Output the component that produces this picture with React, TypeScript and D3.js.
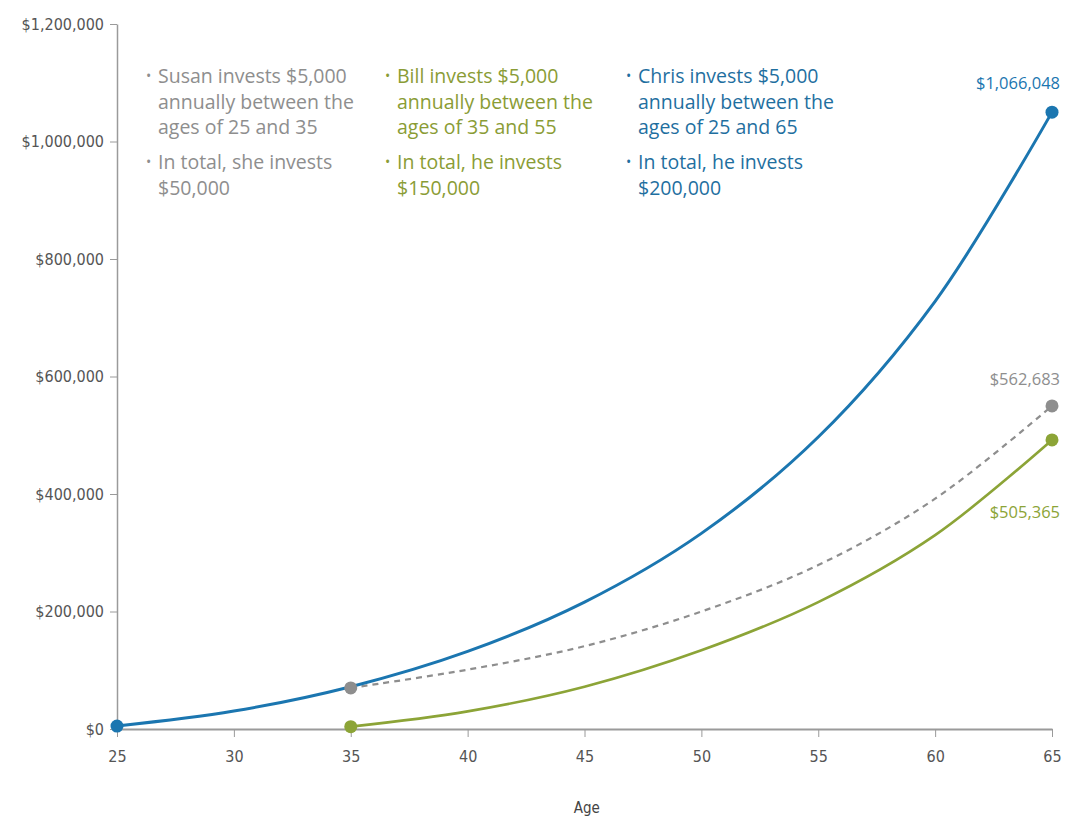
import React, { useEffect, useRef } from 'react';
import * as d3 from 'd3';

// ages on the x axis (5-year steps)
const ages = [25, 30, 35, 40, 45, 50, 55, 60, 65];
const lateAges = [35, 40, 45, 50, 55, 60, 65];

// account balances
const chrisValues = [5000, 30500, 72000, 132000, 216000, 333000, 497000, 728000, 1050000];
const susanValues = [70000, 101000, 141000, 200000, 279000, 392000, 550000];
const billValues = [4000, 30000, 72000, 134000, 216000, 330000, 492000];

const yTicks = [0, 200000, 400000, 600000, 800000, 1000000, 1200000];
const xTicks = [25, 30, 35, 40, 45, 50, 55, 60, 65];

const endLabels = ['$1,066,048', '$562,683', '$505,365'];

const susanNotes = [['Susan invests $5,000', 'annually between the', 'ages of 25 and 35'], ['In total, she invests', '$50,000']];
const billNotes = [['Bill invests $5,000', 'annually between the', 'ages of 35 and 55'], ['In total, he invests', '$150,000']];
const chrisNotes = [['Chris invests $5,000', 'annually between the', 'ages of 25 and 65'], ['In total, he invests', '$200,000']];

const BLUE = '#1b76b0';
const GREEN = '#8ca437';
const GRAY = '#8e8e8e';

export default function App() {
  const ref = useRef(null);

  useEffect(() => {
    const width = 1065;
    const height = 820;
    const margin = { top: 24, left: 117, bottom: 91, right: 13 };

    const svg = d3.select(ref.current);
    svg.selectAll('*').remove();
    svg.attr('width', width).attr('height', height);

    const x = d3.scaleLinear().domain([25, 65]).range([margin.left, width - margin.right]);
    const y = d3.scaleLinear().domain([0, 1200000]).range([height - margin.bottom, margin.top]);

    const axisColor = '#9a9a9a';
    const tickFont = '"DejaVu Sans Condensed", sans-serif';

    // y axis
    const yAxis = svg
      .append('g')
      .attr('transform', `translate(${margin.left},0)`)
      .call(d3.axisLeft(y).tickValues(yTicks).tickFormat(d3.format('$,')).tickSize(7).tickSizeOuter(0).tickPadding(6));
    yAxis.select('.domain').attr('stroke', axisColor).attr('stroke-width', 1.5);
    yAxis.selectAll('.tick line').attr('stroke', axisColor);
    yAxis.selectAll('.tick text').attr('fill', '#555').style('font-family', tickFont).style('font-size', '16px');

    // x axis
    const xAxis = svg
      .append('g')
      .attr('transform', `translate(0,${y(0)})`)
      .call(d3.axisBottom(x).tickValues(xTicks).tickSize(8).tickSizeOuter(0).tickPadding(14));
    xAxis.select('.domain').attr('stroke', axisColor).attr('stroke-width', 2);
    xAxis.selectAll('.tick line').attr('stroke', axisColor);
    xAxis.selectAll('.tick text').attr('fill', '#555').style('font-family', tickFont).style('font-size', '16px');

    svg.append('text')
      .attr('x', x(45.1))
      .attr('y', 813)
      .attr('text-anchor', 'middle')
      .attr('fill', '#444')
      .style('font-family', tickFont)
      .style('font-size', '15px')
      .text('Age');

    const line = d3.line().x((d) => x(d[0])).y((d) => y(d[1])).curve(d3.curveCatmullRom);

    const chris = ages.map((a, i) => [a, chrisValues[i]]);
    const susan = lateAges.map((a, i) => [a, susanValues[i]]);
    const bill = lateAges.map((a, i) => [a, billValues[i]]);

    svg.append('path').datum(susan).attr('d', line).attr('fill', 'none')
      .attr('stroke', GRAY).attr('stroke-width', 2.2).attr('stroke-dasharray', '6,5');
    svg.append('path').datum(bill).attr('d', line).attr('fill', 'none')
      .attr('stroke', GREEN).attr('stroke-width', 2.6);
    svg.append('path').datum(chris).attr('d', line).attr('fill', 'none')
      .attr('stroke', BLUE).attr('stroke-width', 3);

    // end points
    const dots = [
      [chris[0], BLUE], [chris[chris.length - 1], BLUE],
      [susan[0], GRAY], [susan[susan.length - 1], GRAY],
      [bill[0], GREEN], [bill[bill.length - 1], GREEN],
    ];
    svg.selectAll('.dot')
      .data(dots)
      .enter()
      .append('circle')
      .attr('cx', (d) => x(d[0][0]))
      .attr('cy', (d) => y(d[0][1]))
      .attr('r', 6.5)
      .attr('fill', (d) => d[1]);

    const labelFont = '"Open Sans", sans-serif';
    const ends = [
      [chris[chris.length - 1], BLUE, -23],
      [susan[susan.length - 1], GRAY, -21],
      [bill[bill.length - 1], GREEN, 78],
    ];
    svg.selectAll('.end')
      .data(ends)
      .enter()
      .append('text')
      .attr('x', (d) => x(d[0][0]) + 8)
      .attr('y', (d) => y(d[0][1]) + d[2])
      .attr('text-anchor', 'end')
      .attr('fill', (d) => d[1])
      .style('font-family', labelFont)
      .style('font-size', '16.5px')
      .text((d, i) => endLabels[i]);

    // notes at the top
    const notes = [
      [susanNotes, 146, GRAY],
      [billNotes, 385, '#8a9c35'],
      [chrisNotes, 626, '#1f6f9f'],
    ];
    notes.forEach(([blocks, left, color]) => {
      const g = svg.append('g').attr('fill', color).style('font-family', labelFont).style('font-size', '19.5px');
      let top = 83;
      blocks.forEach((lines) => {
        g.append('text').attr('x', left).attr('y', top - 2).style('font-size', '14px').text('•');
        lines.forEach((t, j) => {
          g.append('text').attr('x', left + 12).attr('y', top + j * 25.5).text(t);
        });
        top += lines.length * 25.5 + 9.5;
      });
    });
  });

  return (
    <div id='chartArea'>
      <style>{'body{margin:0}'}</style>
      <svg ref={ref}></svg>
    </div>
  );
}
